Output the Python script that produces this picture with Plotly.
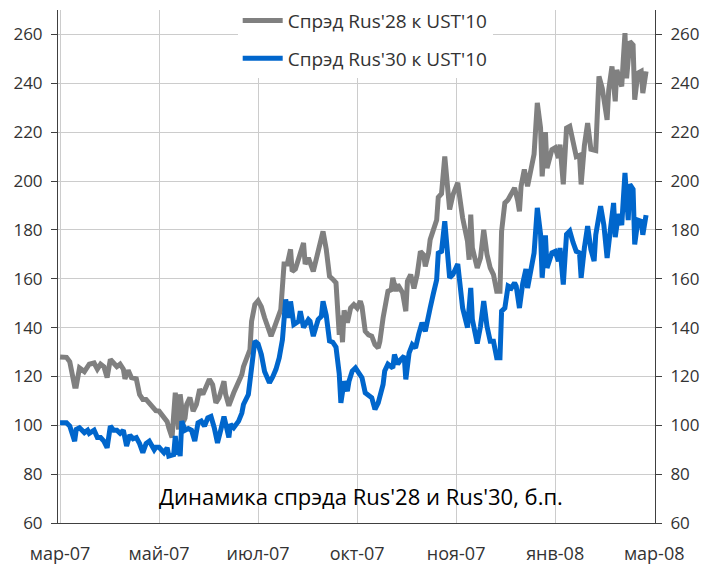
import pandas as pd
import plotly.graph_objects as go

# Observation day offsets from 2007-03-01 and spread values (b.p.)
gray_days = [0, 4, 6, 9, 10, 12, 15, 17, 18, 21, 23, 25, 27, 29, 31, 33, 35, 37, 39, 40,
             42, 44, 47, 49, 51, 53, 55, 58, 59, 61, 64, 66, 67, 69, 71, 72, 73, 74, 76, 77,
             78, 80, 82, 84, 86, 88, 90, 92, 94, 96, 98, 101, 102, 104, 107, 109, 110, 112, 113, 116,
             117, 118, 120, 122, 124, 126, 128, 130, 132, 134, 136, 138, 140, 142, 143, 145, 147, 150, 151, 153,
             156, 158, 159, 162, 164, 166, 168, 170, 172, 173, 174, 175, 177, 179, 181, 183, 185, 186, 188, 190,
             192, 194, 196, 197, 199, 202, 204, 205, 207, 208, 211, 213, 214, 216, 218, 220, 222, 224, 225, 227,
             228, 230, 232, 233, 235, 237, 239, 240, 242, 245, 246, 248, 251, 252, 253, 254, 257, 259, 261, 263,
             265, 267, 269, 271, 272, 274, 276, 278, 280, 282, 283, 284, 286, 288, 291, 292, 294, 296, 297, 299,
             300, 303, 305, 307, 308, 310, 312, 314, 316, 318, 320, 321, 323, 325, 327, 330, 332, 334, 337, 338,
             340, 342, 343, 346, 347, 348, 349, 351, 353, 354, 356, 358, 359, 361]
rus28 = [128, 127.8, 126, 116, 116, 123.5, 122, 124, 125, 125.5, 123, 125, 124, 119.5, 127, 125.5, 124, 125, 123, 119,
         122.5, 119.5, 119, 112.6, 110.6, 110.6, 109, 107, 106, 105.8, 103, 101.5, 99, 95, 113.3, 104.5, 98.3, 112.7, 101.5, 103,
         108.5, 111.3, 105.8, 108.5, 114.7, 112.7, 116, 118.8, 116.6, 109.2, 111.3, 118, 112.7, 108, 113.3, 116, 117.5, 120.8, 124, 129,
         131, 142.6, 149.4, 151, 148.5, 144, 140, 136.5, 140, 144, 147.4, 166, 166, 172, 163, 164, 168.5, 174.6, 166, 168.5,
         163, 168.5, 170, 179.4, 172, 161, 159.8, 158.3, 137, 145, 134, 147, 142, 148, 149.4, 148, 150.8, 148.6, 138.5, 137,
         136.5, 133, 131.7, 134.3, 144, 154.9, 155.5, 160.4, 154.9, 157.6, 154.3, 146.7, 159, 161.7, 156, 161.7, 171.2, 169.8, 165, 170.5,
         176, 181, 184, 193.3, 194.8, 210, 194, 188.3, 194.3, 199.3, 194.3, 184.9, 175.3, 167.8, 186.2, 172.6, 164.4, 168.5, 180, 170,
         164.4, 161.7, 154.9, 154.9, 179.4, 191, 192.3, 194.3, 197.2, 191.7, 187.6, 197.8, 204.7, 197.8, 208.8, 211, 232, 221.7, 201.9, 220,
         205.3, 212.8, 213.6, 209.4, 214.9, 198.6, 221.7, 222.4, 216.2, 210, 210.5, 198.6, 214.5, 223.7, 213, 212.5, 242.8, 238, 225, 237.3,
         246.9, 232.6, 245.5, 238.7, 250, 260.5, 242, 257.1, 255.7, 233.3, 244.2, 244.9, 236, 244.9]

blue_days = [0, 4, 6, 9, 10, 12, 15, 17, 18, 21, 23, 25, 27, 29, 31, 33, 35, 37, 39, 41,
             43, 45, 47, 49, 51, 53, 55, 58, 59, 61, 64, 66, 67, 70, 71, 72, 73, 74, 75, 77,
             79, 81, 83, 85, 87, 89, 91, 93, 95, 97, 99, 101, 104, 105, 107, 110, 112, 113, 116, 118,
             120, 122, 124, 126, 129, 131, 133, 135, 137, 139, 141, 142, 144, 147, 148, 150, 153, 154, 156, 159,
             161, 162, 164, 166, 168, 170, 172, 173, 175, 177, 178, 180, 182, 184, 186, 188, 190, 192, 194, 196,
             199, 200, 202, 205, 206, 208, 210, 212, 213, 215, 217, 219, 221, 223, 225, 227, 228, 230, 232, 233,
             235, 237, 239, 240, 242, 245, 246, 248, 251, 253, 254, 257, 259, 261, 263, 265, 267, 268, 269, 271,
             272, 274, 276, 278, 280, 281, 283, 285, 287, 288, 291, 292, 294, 296, 297, 299, 300, 303, 305, 307,
             308, 310, 312, 314, 316, 318, 320, 321, 323, 325, 327, 329, 330, 333, 335, 337, 339, 341, 342, 344,
             346, 347, 348, 350, 351, 353, 354, 356, 358, 359, 361]
rus30 = [101, 101, 99.7, 93.5, 98.3, 99, 97, 98, 96.7, 98, 95, 95, 93.5, 90.8, 99.7, 98, 98, 96.7, 98, 91.5,
         96, 94.5, 95, 92.5, 88.8, 92.5, 93.5, 90, 91, 91, 88.8, 90.8, 87.4, 88, 95.6, 88, 90.8, 87.4, 101.7, 98,
         98.7, 98, 93.5, 101, 101.7, 99.7, 103, 103.6, 99, 92.8, 98, 103.6, 95, 100.4, 99, 101.7, 105, 108.5, 112.6, 125,
         134.5, 133.3, 129, 122, 117.4, 119.8, 122.9, 127.6, 135, 151.5, 144, 150.7, 141.3, 142.6, 146.7, 140, 143.3, 142.6, 136.5, 143.3,
         144.6, 150.8, 145, 134.5, 134, 132, 121, 109.2, 118, 114, 118, 122.2, 123.5, 121.5, 119.5, 113.3, 112, 111.3, 106.5, 109.2,
         116.7, 122.2, 125, 123.5, 129, 125, 127, 128.3, 118.8, 129.5, 133, 131.7, 137.4, 142, 138.5, 146.7, 148, 154, 159.5, 170.5,
         171.2, 183.5, 164, 160.4, 161.7, 166, 160, 148, 140, 156.2, 143.3, 133.5, 140.5, 150.8, 140.5, 134.4, 134.4, 130.3, 127.6, 127.6,
         146.7, 148, 157, 156.2, 158.3, 157, 148, 158, 164, 156.2, 168, 170.5, 189, 178.2, 160.4, 177.7, 164.4, 170.6, 171.2, 167.2,
         172.6, 157.6, 178.2, 179.5, 174.9, 171.2, 170.6, 160.4, 172.6, 181.5, 172, 167.2, 178, 189.7, 182, 168.5, 180, 191, 177, 186.5,
         182, 190, 203.3, 184, 198.6, 196.6, 174, 184, 183.5, 178, 186]

tick_days = [0, 61, 122, 183, 244, 305, 366]
tick_labels = ["мар-07", "май-07", "июл-07", "окт-07", "ноя-07", "янв-08", "мар-08"]
y_ticks = [60, 80, 100, 120, 140, 160, 180, 200, 220, 240, 260]

base = pd.Timestamp("2007-03-01")
gray_dates = base + pd.to_timedelta(gray_days, unit="D")
blue_dates = base + pd.to_timedelta(blue_days, unit="D")
tick_dates = base + pd.to_timedelta(tick_days, unit="D")

FONT = "Open Sans"
TXT = "#333333"

fig = go.Figure()
fig.add_trace(go.Scatter(x=gray_dates, y=rus28, mode="lines", name="Спрэд Rus'28 к UST'10",
                         line=dict(color="#808080", width=5), legendgroup="a", yaxis="y"))
fig.add_trace(go.Scatter(x=blue_dates, y=rus30, mode="lines", name="Спрэд Rus'30 к UST'10",
                         line=dict(color="#0066CC", width=5), legendgroup="b", yaxis="y2"))

axis_common = dict(range=[60, 270], tickvals=y_ticks, ticks="outside", ticklen=6,
                   tickcolor="#404040", showline=True, linecolor="#404040", linewidth=1,
                   tickfont=dict(family=FONT, size=17, color=TXT), zeroline=False,
                   ticklabelstandoff=5, automargin=False)

fig.update_layout(
    width=705, height=564,
    margin=dict(l=58, r=50, t=10, b=41, autoexpand=False),
    paper_bgcolor="white", plot_bgcolor="white",
    showlegend=True,
    legend=dict(x=0.301, y=0.997, xref="paper", yref="container", xanchor="left", yanchor="top",
                bgcolor="white", font=dict(family=FONT, size=19, color=TXT), tracegroupgap=10,
                itemwidth=40),
    xaxis=dict(type="date", range=["2007-02-27 18:00", "2008-03-01 12:00"],
               tickvals=tick_dates, ticktext=tick_labels, ticks="",
               showgrid=True, gridcolor="#cccccc", gridwidth=1,
               showline=True, linecolor="#404040", linewidth=1, automargin=False,
               tickfont=dict(family=FONT, size=18, color=TXT), ticklabelstandoff=14),
    yaxis=dict(side="left", showgrid=True, gridcolor="#cccccc", gridwidth=1, **axis_common),
    yaxis2=dict(side="right", overlaying="y", showgrid=False, **axis_common),
    annotations=[dict(text="Динамика спрэда Rus'28 и Rus'30, б.п.", xref="paper", yref="paper",
                      x=0.508, y=0.053, xanchor="center", yanchor="middle", showarrow=False,
                      font=dict(family=FONT, size=22, color="black"))],
)

fig.write_html("out.html", config={"displayModeBar": False},
               post_script="document.body.style.margin='0px';")
